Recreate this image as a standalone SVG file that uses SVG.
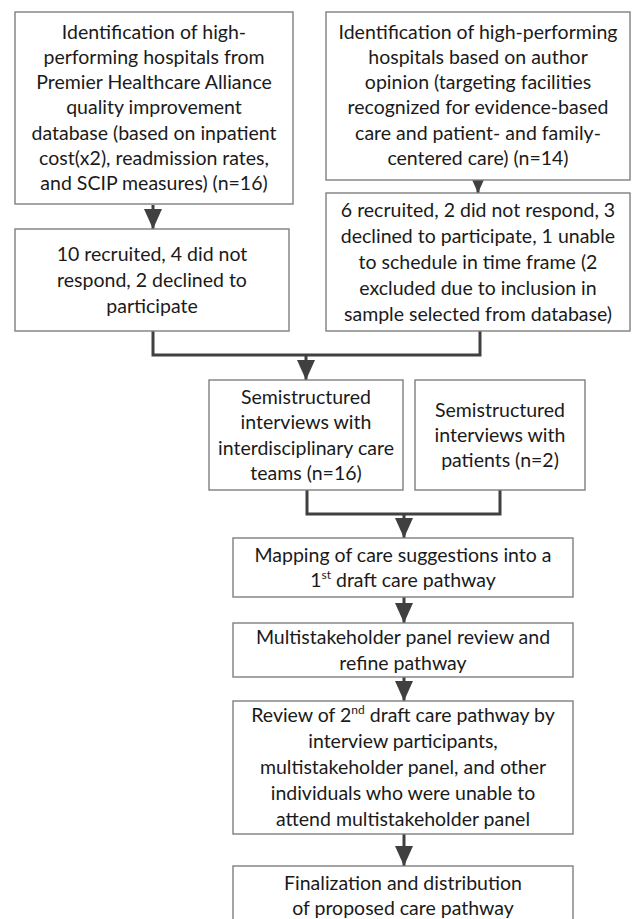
<svg xmlns="http://www.w3.org/2000/svg" width="633" height="919" viewBox="0 0 633 919">
<style>
.box{fill:#fff;stroke:#7f7f7f;stroke-width:1.4}
.t{font-family:Lato,"Liberation Sans",sans-serif;font-size:19.5px;fill:#1a1a1a;text-anchor:middle}
.sup{font-size:12px}
.ln{fill:none;stroke:#404040;stroke-width:3}
</style>
<defs>
<marker id="ah" viewBox="0 0 20 18" refX="20" refY="9" markerWidth="20" markerHeight="18" markerUnits="userSpaceOnUse" orient="auto">
<path d="M0,0 L20,9 L0,18 Z" fill="#404040"/>
</marker>
</defs>
<rect width="633" height="919" fill="#fff"/>
<g id="connectors">
<path class="ln" d="M153,205 V229" marker-end="url(#ah)"/>
<path class="ln" d="M478,180 V193" marker-end="url(#ah)"/>
<path class="ln" d="M153,331 V355 H480 V331"/>
<path class="ln" d="M306,355 V380" marker-end="url(#ah)"/>
<path class="ln" d="M307,490 V514 H500 V490"/>
<path class="ln" d="M404,514 V538" marker-end="url(#ah)"/>
<path class="ln" d="M404,597 V623" marker-end="url(#ah)"/>
<path class="ln" d="M404,677 V701" marker-end="url(#ah)"/>
<path class="ln" d="M404,834 V866" marker-end="url(#ah)"/>
</g>
<g id="n1">
<rect class="box" x="15" y="12" width="278" height="192"/>
<text class="t" x="154" y="39">Identification of high-</text>
<text class="t" x="154" y="64">performing hospitals from</text>
<text class="t" x="154" y="89">Premier Healthcare Alliance</text>
<text class="t" x="154" y="114">quality improvement</text>
<text class="t" x="154" y="140">database (based on inpatient</text>
<text class="t" x="154" y="165">cost(x2), readmission rates,</text>
<text class="t" x="154" y="190">and SCIP measures) (n=16)</text>
</g>
<g id="n2">
<rect class="box" x="326" y="12" width="304" height="168"/>
<text class="t" x="478" y="39">Identification of high-performing</text>
<text class="t" x="478" y="64">hospitals based on author</text>
<text class="t" x="478" y="89">opinion (targeting facilities</text>
<text class="t" x="478" y="114">recognized for evidence-based</text>
<text class="t" x="478" y="140">care and patient- and family-</text>
<text class="t" x="478" y="165">centered care) (n=14)</text>
</g>
<g id="n3">
<rect class="box" x="15" y="229" width="274" height="102"/>
<text class="t" x="152" y="261">10 recruited, 4 did not</text>
<text class="t" x="152" y="287">respond, 2 declined to</text>
<text class="t" x="152" y="313">participate</text>
</g>
<g id="n4">
<rect class="box" x="326" y="193" width="304" height="138"/>
<text class="t" x="478" y="217">6 recruited, 2 did not respond, 3</text>
<text class="t" x="478" y="243">declined to participate, 1 unable</text>
<text class="t" x="478" y="269">to schedule in time frame (2</text>
<text class="t" x="478" y="295">excluded due to inclusion in</text>
<text class="t" x="478" y="321">sample selected from database)</text>
</g>
<g id="n5">
<rect class="box" x="209" y="380" width="194" height="110"/>
<text class="t" x="306" y="404">Semistructured</text>
<text class="t" x="306" y="429">interviews with</text>
<text class="t" x="306" y="455">interdisciplinary care</text>
<text class="t" x="306" y="480">teams (n=16)</text>
</g>
<g id="n6">
<rect class="box" x="415" y="380" width="170" height="110"/>
<text class="t" x="500" y="417">Semistructured</text>
<text class="t" x="500" y="442">interviews with</text>
<text class="t" x="500" y="467">patients (n=2)</text>
</g>
<g id="n7">
<rect class="box" x="233" y="538" width="340" height="59"/>
<text class="t" x="403" y="562">Mapping of care suggestions into a</text>
<text class="t" x="403" y="587">1<tspan class="sup" dy="-8">st</tspan><tspan dy="8"> draft care pathway</tspan></text>
</g>
<g id="n8">
<rect class="box" x="233" y="623" width="340" height="54"/>
<text class="t" x="403" y="644">Multistakeholder panel review and</text>
<text class="t" x="403" y="670">refine pathway</text>
</g>
<g id="n9">
<rect class="box" x="233" y="701" width="340" height="133"/>
<text class="t" x="403" y="722">Review of 2<tspan class="sup" dy="-8">nd</tspan><tspan dy="8"> draft care pathway by</tspan></text>
<text class="t" x="403" y="748">interview participants,</text>
<text class="t" x="403" y="774">multistakeholder panel, and other</text>
<text class="t" x="403" y="800">individuals who were unable to</text>
<text class="t" x="403" y="826">attend multistakeholder panel</text>
</g>
<g id="n10">
<rect class="box" x="233" y="866" width="340" height="60"/>
<text class="t" x="403" y="890">Finalization and distribution</text>
<text class="t" x="403" y="915">of proposed care pathway</text>
</g>
</svg>
